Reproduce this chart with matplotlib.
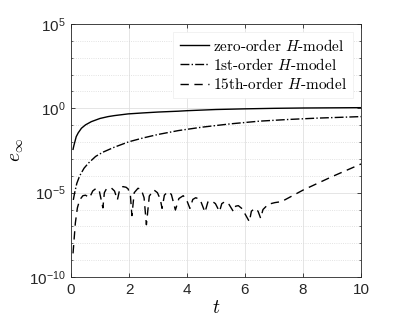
import matplotlib
matplotlib.use("Agg")
import matplotlib.pyplot as plt
import numpy as np
from matplotlib.ticker import FixedLocator, FixedFormatter, NullFormatter

plt.rcParams['mathtext.fontset'] = 'cm'

# zero-order H-model: (t, log10 e)
t0 = [0.07, 0.1, 0.18, 0.25, 0.36, 0.5, 0.7, 1.0, 1.28, 1.5, 1.97, 2.5, 3.0,
      3.69, 4.0, 5.0, 6.0, 7.0, 8.0, 10.0]
e0 = [-2.43, -2.2, -1.68, -1.45, -1.18, -0.98, -0.79, -0.6, -0.49, -0.43,
      -0.33, -0.27, -0.22, -0.17, -0.14, -0.07, -0.03, 0.0, 0.02, 0.04]

# 1st-order H-model
t1 = [0.08, 0.12, 0.2, 0.3, 0.45, 0.6, 0.85, 1.1, 1.5, 2.0, 2.5, 3.0, 3.7,
      4.5, 5.5, 6.5, 7.5, 8.5, 10.0]
e1 = [-5.43, -5.05, -4.45, -4.0, -3.55, -3.25, -2.85, -2.6, -2.3, -1.98,
      -1.75, -1.55, -1.32, -1.12, -0.92, -0.76, -0.66, -0.58, -0.49]

# 15th-order H-model
t15 = [0.07, 0.15, 0.22, 0.3, 0.41, 0.5, 0.64, 0.75, 0.87, 0.97, 1.1, 1.15,
       1.22, 1.39, 1.5, 1.6, 1.68, 1.79, 1.9, 1.97, 2.05, 2.1, 2.18, 2.31,
       2.42, 2.52, 2.6, 2.7, 2.86, 2.98, 3.08, 3.14, 3.22, 3.34, 3.46, 3.6,
       3.72, 3.87, 3.98, 4.1, 4.2, 4.3, 4.45, 4.62, 4.72, 4.85, 4.98, 5.12,
       5.2, 5.31, 5.45, 5.6, 5.68, 5.77, 5.9, 6.15, 6.22, 6.34, 6.45, 6.54,
       6.62, 6.8, 7.03, 7.26, 8.01, 9.0, 10.0]
e15 = [-8.6, -6.8, -5.9, -5.43, -5.18, -5.15, -5.3, -4.9, -4.74, -4.85, -5.9,
       -5.0, -4.78, -4.72, -4.9, -5.43, -4.8, -4.64, -4.68, -4.78, -5.2, -6.36,
       -5.0, -4.74, -4.8, -5.3, -6.9, -5.2, -4.84, -5.0, -5.4, -5.93, -5.15,
       -4.94, -5.1, -6.03, -5.35, -5.18, -5.4, -5.93, -5.4, -5.3, -5.4, -6.16,
       -5.55, -5.49, -5.65, -6.12, -5.65, -5.53, -5.7, -6.12, -5.8, -5.77,
       -5.95, -6.72, -6.1, -5.93, -6.1, -6.52, -6.0, -5.69, -5.59, -5.53,
       -4.84, -4.05, -3.3]

xticks = [0, 2, 4, 6, 8, 10]
yticks = [1e-10, 1e-5, 1e0, 1e5]
ylabels = [r'$\mathregular{10^{-10}}$', r'$\mathregular{10^{-5}}$',
           r'$\mathregular{10^{0}}$', r'$\mathregular{10^{5}}$']

fig = plt.figure(figsize=(3.99, 3.27), dpi=100)
ax = fig.add_axes([71 / 399, 1 - 277 / 327, 290 / 399, 253 / 327])

ax.semilogy(t0, 10 ** np.array(e0), 'k-', lw=1.0, label=r'zero-order $H$-model')
ax.semilogy(t1, 10 ** np.array(e1), 'k-.', lw=1.0, label=r'1st-order $H$-model')
ax.semilogy(t15, 10 ** np.array(e15), 'k--', lw=1.0, dashes=(6, 4),
            label=r'15th-order $H$-model')

ax.set_xlim(0, 10)
ax.set_ylim(1e-10, 1e5)
ax.xaxis.set_major_locator(FixedLocator(xticks))
ax.yaxis.set_major_locator(FixedLocator(yticks))
ax.yaxis.set_major_formatter(FixedFormatter(ylabels))
ax.yaxis.set_minor_locator(FixedLocator([10.0 ** k for k in range(-10, 6)]))
ax.yaxis.set_minor_formatter(NullFormatter())

for lab in ax.get_xticklabels() + ax.get_yticklabels():
    lab.set_family('Liberation Sans')
    lab.set_fontsize(11)

ax.tick_params(which='both', direction='in', top=True, right=True,
               color='0.15', labelcolor='0.15')
ax.tick_params(which='major', length=3, width=0.6, pad=4)
ax.tick_params(which='minor', length=1.5, width=0.5)
for s in ax.spines.values():
    s.set_color('0.15')
    s.set_linewidth(0.6)

ax.grid(True, which='major', color='0.88', lw=0.6, ls='-')
ax.grid(True, which='minor', axis='y', color='0.85', lw=0.6, ls=':')
ax.set_axisbelow(True)

ax.set_xlabel(r'$t$', fontsize=14, labelpad=1)
ax.set_ylabel(r'$e_\infty$', fontsize=14, labelpad=2)

leg = ax.legend(loc='upper right', prop={'family': 'cmr10', 'size': 11},
                handlelength=1.9, handletextpad=0.3, labelspacing=0.2,
                borderaxespad=0.5, fancybox=False, framealpha=1,
                edgecolor='0.93', borderpad=0.4)
leg.get_frame().set_linewidth(0.5)

plt.savefig('out.png', dpi=100)
